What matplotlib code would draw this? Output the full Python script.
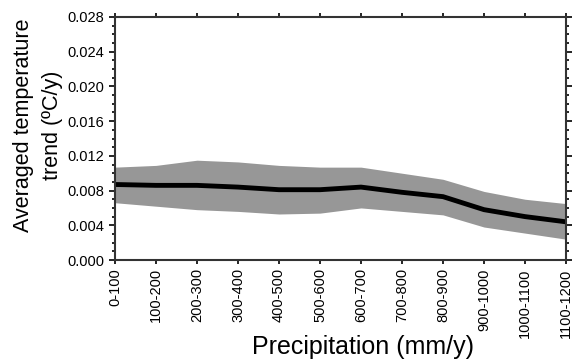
import numpy as np
import matplotlib.pyplot as plt
from matplotlib.ticker import MultipleLocator

plt.rcParams['font.family'] = ['Liberation Sans', 'DejaVu Sans']

# precipitation classes and averaged temperature trend (degC/y)
classes = ['0-100', '100-200', '200-300', '300-400', '400-500', '500-600',
           '600-700', '700-800', '800-900', '900-1000', '1000-1100', '1100-1200']
trend_mean = [0.0087, 0.0086, 0.0086, 0.0084, 0.0081, 0.0081,
              0.0084, 0.0078, 0.0073, 0.0058, 0.0050, 0.0044]
trend_upper = [0.0107, 0.0109, 0.0115, 0.0113, 0.0109, 0.0107,
               0.0107, 0.0100, 0.0093, 0.0079, 0.0070, 0.0065]
trend_lower = [0.0066, 0.0062, 0.0058, 0.0056, 0.0053, 0.0054,
               0.0060, 0.0056, 0.0052, 0.0038, 0.0031, 0.0024]

x = np.arange(len(classes))

fig = plt.figure(figsize=(5.74, 3.6), dpi=100)
ax = fig.add_axes([115/574, 1-260/360, (566-115)/574, (260-17)/360])

ax.fill_between(x, trend_lower, trend_upper, color='#979797', linewidth=0)
ax.plot(x, trend_mean, color='black', linewidth=3.5, solid_capstyle='butt')

ax.set_xlim(0, len(classes)-1)
ax.set_ylim(0, 0.028)
ax.set_xticks(x)
ax.set_xticklabels(classes, rotation=90, fontsize=10.5)
ax.yaxis.set_major_locator(MultipleLocator(0.004))
ax.yaxis.set_minor_locator(MultipleLocator(0.001))
ax.set_yticklabels(['%.3f' % v for v in ax.get_yticks()], fontsize=10.5)

ax.tick_params(which='both', direction='out', top=True, right=True, width=1.2)
ax.tick_params(which='major', length=4)
ax.tick_params(which='minor', length=2.5)
ax.tick_params(axis='x', which='major', length=3, pad=3)
for s in ax.spines.values():
    s.set_linewidth(1.5)
    s.set_color('#333333')

fig.text(38/574, 1-125/360, 'Averaged temperature\ntrend (ºC/y)', rotation=90,
         ha='center', va='center', fontsize=15.5, multialignment='center',
         linespacing=1.45)
fig.text(363/574, 1-347/360, 'Precipitation (mm/y)', ha='center', va='center',
         fontsize=18)

fig.savefig('out.png', dpi=100)
